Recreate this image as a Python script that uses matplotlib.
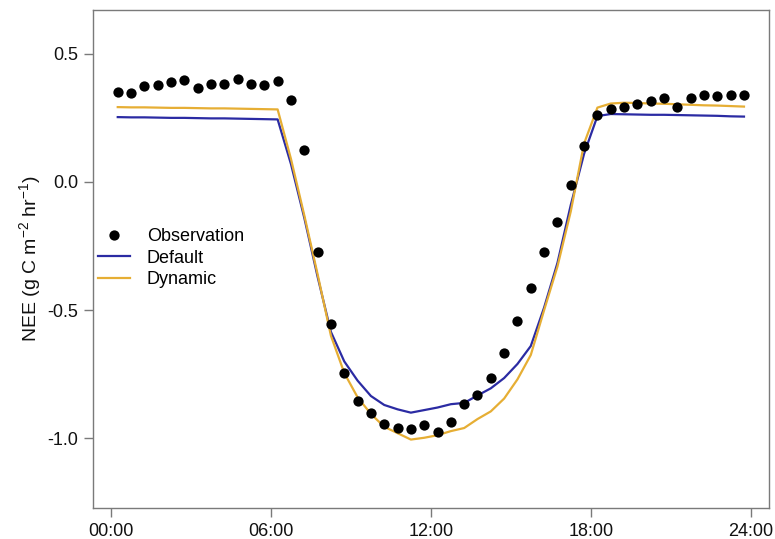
import numpy as np
import matplotlib
matplotlib.use("Agg")
import matplotlib.pyplot as plt

plt.rcParams['font.family'] = ['Liberation Sans', 'DejaVu Sans']
plt.rcParams['mathtext.fontset'] = 'custom'
plt.rcParams['mathtext.rm'] = 'Liberation Sans'
plt.rcParams['mathtext.it'] = 'Liberation Sans:italic'

# half-hourly time stamps (hours)
hours = np.arange(0.25, 24.0, 0.5)

observation = [0.352, 0.348, 0.374, 0.377, 0.389, 0.396, 0.368, 0.384, 0.384, 0.400,
               0.383, 0.377, 0.393, 0.318, 0.123, -0.275, -0.556, -0.746, -0.855, -0.900,
               -0.946, -0.959, -0.963, -0.947, -0.977, -0.937, -0.867, -0.832, -0.764, -0.669,
               -0.544, -0.415, -0.273, -0.156, -0.013, 0.140, 0.262, 0.283, 0.294, 0.306,
               0.314, 0.329, 0.291, 0.329, 0.339, 0.335, 0.339, 0.339]

default = [0.253, 0.252, 0.252, 0.251, 0.250, 0.250, 0.249, 0.248, 0.248, 0.247,
           0.246, 0.245, 0.244, 0.070, -0.140, -0.370, -0.585, -0.700, -0.775, -0.835,
           -0.870, -0.887, -0.900, -0.890, -0.880, -0.867, -0.862, -0.833, -0.805, -0.765,
           -0.710, -0.640, -0.490, -0.316, -0.090, 0.110, 0.257, 0.265, 0.264, 0.263,
           0.262, 0.262, 0.261, 0.260, 0.259, 0.258, 0.256, 0.255]

dynamic = [0.292, 0.291, 0.291, 0.290, 0.289, 0.289, 0.288, 0.287, 0.287, 0.286,
           0.285, 0.284, 0.283, 0.090, -0.130, -0.360, -0.600, -0.745, -0.840, -0.905,
           -0.955, -0.980, -1.005, -0.998, -0.988, -0.972, -0.960, -0.925, -0.895, -0.845,
           -0.770, -0.675, -0.500, -0.330, -0.115, 0.150, 0.290, 0.306, 0.309, 0.308,
           0.306, 0.305, 0.303, 0.301, 0.299, 0.298, 0.296, 0.294]

xticks = [0, 6, 12, 18, 24]
xticklabels = ['00:00', '06:00', '12:00', '18:00', '24:00']
yticks = [-1.0, -0.5, 0.0, 0.5]

fig = plt.figure(figsize=(7.75, 5.39), dpi=100)
ax = fig.add_axes([0.1196, 0.0575, 0.8727, 0.9245])

ax.plot(hours, default, color='#2b2ba3', lw=1.6, label='Default', zorder=2)
ax.plot(hours, dynamic, color='#e6ae34', lw=1.6, label='Dynamic', zorder=2)
ax.plot(hours, observation, 'o', color='black', ms=7.4, mec='none',
        label='Observation', zorder=3)

ax.set_xlim(-0.69, 24.69)
ax.set_ylim(-1.272, 0.672)
ax.set_xticks(xticks)
ax.set_xticklabels(xticklabels)
ax.set_yticks(yticks)
ax.set_yticklabels(['-1.0', '-0.5', '0.0', '0.5'])

for s in ax.spines.values():
    s.set_color('#7a7a7a')
    s.set_linewidth(1.0)
ax.tick_params(colors='#7a7a7a', labelcolor='#111111', length=6.5, width=1.0,
               labelsize=13, pad=4)

ax.set_ylabel('NEE (g C m$^{-2}$ hr$^{-1}$)', fontsize=14, color='#111111', labelpad=3)

handles, labels = ax.get_legend_handles_labels()
order = [2, 0, 1]
ax.legend([handles[i] for i in order], [labels[i] for i in order],
          loc='upper left', bbox_to_anchor=(0.0078, 0.562), frameon=False,
          fontsize=13, handlelength=1.78, handletextpad=0.93, labelspacing=0.26,
          borderpad=0, borderaxespad=0)

fig.savefig('out.png', dpi=100)
